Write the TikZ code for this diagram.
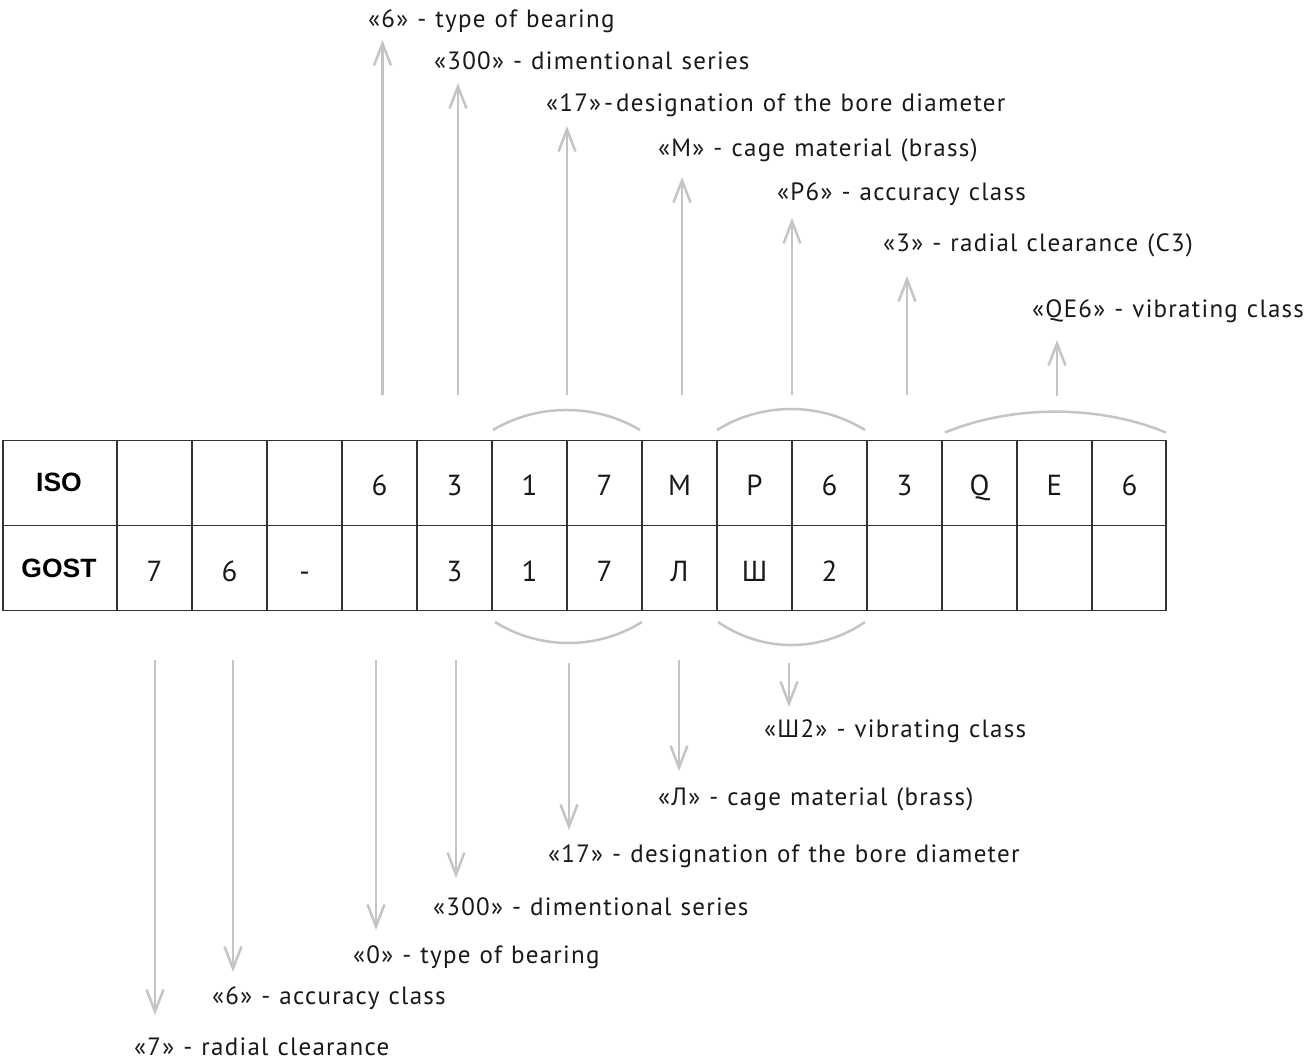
\documentclass[tikz,border=0pt]{standalone}
\usepackage{fontspec}
\setmainfont{PT Sans}[LetterSpace=5, WordSpace=1.15]
\newfontfamily\cellfont{PT Sans}
\newfontfamily\headfont{Liberation Sans}
\usetikzlibrary{arrows.meta}
\definecolor{arrgray}{HTML}{C4C4C4}
\definecolor{gridc}{HTML}{333333}
\tikzset{
  lbl/.style={anchor=base west, inner sep=0pt, font=\fontsize{25}{29}\selectfont, text=black!90},
  cell/.style={anchor=base, inner sep=0pt, font=\cellfont\fontsize{29}{32}\selectfont, text=black!90},
  head/.style={anchor=base, inner sep=0pt, font=\headfont\bfseries\fontsize{26.5}{30}\selectfont},
  arr/.style={draw=arrgray, line width=2.5pt, -{Straight Barb[length=22pt,width=17pt]}},
  arcline/.style={draw=arrgray, line width=2.5pt},
  grid/.style={draw=gridc, line width=1.5pt}
}
\begin{document}
\begin{tikzpicture}[x=1pt,y=-1pt]
\useasboundingbox (0,0) rectangle (1307,1061);
% table grid
\draw[grid] (3,440.5) rectangle (1166,610.5);
\draw[grid] (3,525.5) -- (1166,525.5);
\foreach \i in {0,...,13} {
  \draw[grid] ({117+75*\i},440.5) -- ({117+75*\i},610.5);
}
% headers
\node[head] (iso) at (59,491) {ISO};
\node[head] (gost) at (59,577) {GOST};
% ISO row
\foreach \t [count=\i] in {{},{},{},6,3,1,7,M,P,6,3,Q,E,6} {
  \node[cell] (iso\i) at ({79.5+75*\i},495) {\t};
}
% GOST row
\foreach \t [count=\i] in {7,6,-,{},3,1,7,Л,Ш,2,{},{},{},{}} {
  \node[cell] (gost\i) at ({79.5+75*\i},581) {\t};
}
% upper arcs
\coordinate (ua1l) at (493,430); \coordinate (ua1r) at (640,430);
\coordinate (ua2l) at (717,430); \coordinate (ua2r) at (865,430);
\coordinate (ua3l) at (945,432.5); \coordinate (ua3r) at (1166,432.5);
\draw[arcline] (ua1l) .. controls (538,403.3) and (595,403.3) .. (ua1r);
\draw[arcline] (ua2l) .. controls (762,402) and (820,402) .. (ua2r);
\draw[arcline] (ua3l) .. controls (1012,404.7) and (1099,404.7) .. (ua3r);
% lower arcs
\coordinate (la1l) at (495,622); \coordinate (la1r) at (642,622);
\coordinate (la2l) at (718,622); \coordinate (la2r) at (865,622);
\draw[arcline] (la1l) .. controls (540,650) and (597,650) .. (la1r);
\draw[arcline] (la2l) .. controls (763,652.7) and (820,652.7) .. (la2r);
% upper labels
\node[lbl] (t1) at (368,27) {«6» - type of bearing};
\node[lbl] (t2) at (434,69) {«300» - dimentional series};
\node[lbl] (t3) at (546,111) {«17»\hspace{3pt}-\hspace{3pt}designation of the bore diameter};
\node[lbl] (t4) at (658,156) {«M» - cage material (brass)};
\node[lbl] (t5) at (777,200) {«P6» - accuracy class};
\node[lbl] (t6) at (883,251) {«3» - radial clearance (C3)};
\node[lbl] (t7) at (1032,317) {«QE6» - vibrating class};
% upper arrows
\coordinate (us1) at (382.5,395); \coordinate (ue1) at (382.5,40);
\coordinate (us2) at (458,395);   \coordinate (ue2) at (458,83);
\coordinate (us3) at (567,395);   \coordinate (ue3) at (567,126);
\coordinate (us4) at (682,395);   \coordinate (ue4) at (682,177);
\coordinate (us5) at (792,395);   \coordinate (ue5) at (792,218);
\coordinate (us6) at (907,395);   \coordinate (ue6) at (907,276);
\coordinate (us7) at (1057,396);  \coordinate (ue7) at (1057,340);
\foreach \k in {1,...,7} { \draw[arr] (us\k) -- (ue\k); }
% lower labels
\node[lbl] (b1) at (134,1055) {«7» - radial clearance};
\node[lbl] (b2) at (212,1004) {«6» - accuracy class};
\node[lbl] (b3) at (353,963) {«0» - type of bearing};
\node[lbl] (b4) at (433,915) {«300» - dimentional series};
\node[lbl] (b5) at (548,862) {«17» - designation of the bore diameter};
\node[lbl] (b6) at (658,805) {«Л» - cage material (brass)};
\node[lbl] (b7) at (764,737) {«Ш2» - vibrating class};
% lower arrows
\coordinate (ls1) at (155,660); \coordinate (le1) at (155,1015);
\coordinate (ls2) at (233,660); \coordinate (le2) at (233,972);
\coordinate (ls3) at (376,660); \coordinate (le3) at (376,930);
\coordinate (ls4) at (456,660); \coordinate (le4) at (456,878);
\coordinate (ls5) at (569,663); \coordinate (le5) at (569,830);
\coordinate (ls6) at (679,660); \coordinate (le6) at (679,771);
\coordinate (ls7) at (789,663); \coordinate (le7) at (789,707);
\foreach \k in {1,...,7} { \draw[arr] (ls\k) -- (le\k); }
\end{tikzpicture}
\end{document}
